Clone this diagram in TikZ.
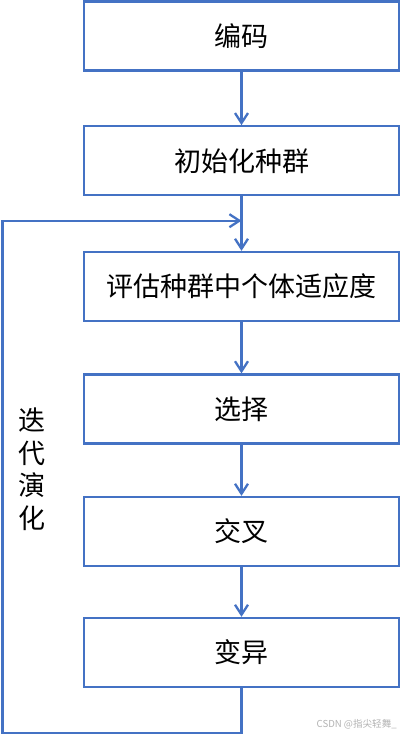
\documentclass[tikz,border=0pt]{standalone}
\usepackage{fontspec}
\newfontfamily\cjk{Noto Sans CJK SC}
\usetikzlibrary{arrows.meta}
\definecolor{boxblue}{HTML}{4472C4}
\tikzset{
  stepbox/.style={draw=boxblue, line width=2.3pt, minimum width=315pt, minimum height=69pt, inner sep=0pt, font=\cjk\fontsize{27pt}{30pt}\selectfont, text=black},
  conn/.style={draw=boxblue, line width=2.3pt, -{Straight Barb[length=10pt,width=13pt,line width=2.3pt]}},
  loopline/.style={draw=boxblue, line width=2.3pt}
}
\begin{document}
\begin{tikzpicture}[x=1pt,y=-1pt]
\useasboundingbox (0,0) rectangle (401,736);
\node[stepbox] (b1) at (241.5,36) {编码};
\node[stepbox] (b2) at (241.5,160.8) {初始化种群};
\node[stepbox] (b3) at (241.5,286.5) {评估种群中个体适应度};
\node[stepbox] (b4) at (241.5,409) {选择};
\node[stepbox] (b5) at (241.5,531.5) {交叉};
\node[stepbox] (b6) at (241.5,652.5) {变异};
\coordinate (m) at (241.5,220.7);
\coordinate (c1) at (241.5,732.7);
\coordinate (c2) at (2.5,732.7);
\coordinate (c3) at (2.5,220.7);
\draw[conn] (b1) -- (b2);
\draw[conn] (b2) -- (b3);
\draw[conn] (b3) -- (b4);
\draw[conn] (b4) -- (b5);
\draw[conn] (b5) -- (b6);
\draw[loopline] (b6.south) -- (c1) -- (c2) -- (c3) -- (m);
\draw[conn] (c3) -- (m);
\node[font=\cjk\fontsize{27pt}{32.5pt}\selectfont, align=center, inner sep=0pt] (lbl) at (31.5,469) {迭\\代\\演\\化};
\node[font=\cjk\fontsize{9.6pt}{10pt}\selectfont, text=black!30, anchor=east, inner sep=0pt] (wm) at (397,724) {CSDN @指尖轻舞\_};
\end{tikzpicture}
\end{document}
